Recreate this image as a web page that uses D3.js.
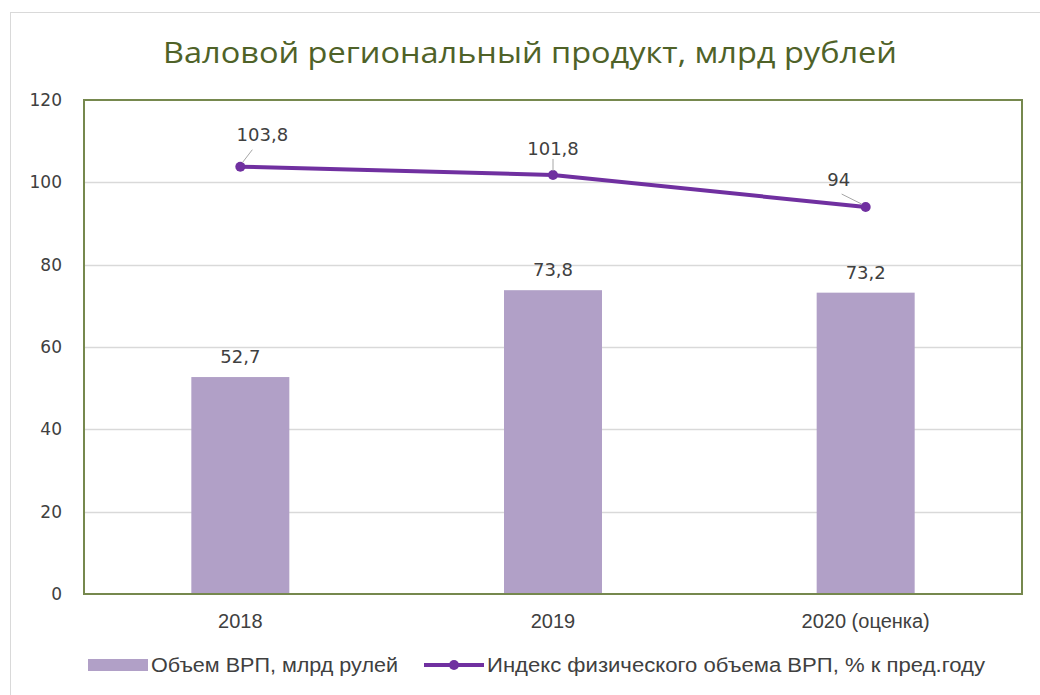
<!DOCTYPE html>
<html>
<head>
<meta charset="utf-8">
<script src="https://cdn.jsdelivr.net/npm/d3@7"></script>
<style>
  body { margin: 0; background: #fff; }
  #chart svg { display: block; }
</style>
</head>
<body>
<div id="chart"></div>
<script>
const categories = ['2018', '2019', '2020 (оценка)'];
const grpValues = [52.7, 73.8, 73.2];
const indexValues = [103.8, 101.8, 94];
const yTicks = [0, 20, 40, 60, 80, 100, 120];
const seriesNames = ['Объем ВРП, млрд рулей', 'Индекс физического объема ВРП, % к пред.году'];

const fmt = v => String(v).replace('.', ',');

function drawChart() {
  const W = 1040, H = 695;
  const plot = { left: 84, top: 100, right: 1022, bottom: 594 };
  const svg = d3.select('#chart').html('').append('svg')
                .attr('width', W)
                .attr('height', H);

  // outer chart frame
  svg.append('rect')
     .attr('x', 10.5).attr('y', 12.5)
     .attr('width', W + 20).attr('height', H)
     .attr('fill', '#fff')
     .attr('stroke', '#d9d9d9');

  const x = d3.scaleBand()
              .domain(categories)
              .range([plot.left, plot.right]);
  const y = d3.scaleLinear()
              .domain([0, 120])
              .range([plot.bottom, plot.top]);

  // gridlines
  svg.append('g')
     .selectAll('line')
     .data(yTicks.filter(t => t > 0 && t < 120))
     .join('line')
     .attr('x1', plot.left).attr('x2', plot.right)
     .attr('y1', d => Math.round(y(d)) + 0.5)
     .attr('y2', d => Math.round(y(d)) + 0.5)
     .attr('stroke', '#d9d9d9')
     .attr('stroke-width', 1.5);

  // y tick labels
  const yAxis = d3.axisLeft(y).tickValues(yTicks).tickSize(0).tickPadding(0);
  const ya = svg.append('g').attr('transform', `translate(${plot.left - 22},0)`).call(yAxis);
  ya.select('.domain').remove();
  ya.selectAll('text')
    .attr('font-family', 'DejaVu Sans, sans-serif')
    .attr('font-size', 17)
    .attr('fill', '#404040');

  // x tick labels
  const xAxis = d3.axisBottom(x).tickSize(0).tickPadding(0);
  const xa = svg.append('g').attr('transform', `translate(0,${plot.bottom + 20})`).call(xAxis);
  xa.select('.domain').remove();
  xa.selectAll('text')
    .attr('font-family', 'Liberation Sans, sans-serif')
    .attr('font-size', 20)
    .attr('fill', '#404040');

  // bars
  const barW = 98;
  svg.append('g')
     .selectAll('rect')
     .data(grpValues)
     .join('rect')
     .attr('x', (d, i) => x(categories[i]) + x.bandwidth() / 2 - barW / 2)
     .attr('y', d => y(d))
     .attr('width', barW)
     .attr('height', d => plot.bottom - y(d))
     .attr('fill', '#b1a0c7');

  svg.append('g')
     .selectAll('text')
     .data(grpValues)
     .join('text')
     .attr('x', (d, i) => x(categories[i]) + x.bandwidth() / 2)
     .attr('y', d => y(d) - 14)
     .attr('text-anchor', 'middle')
     .attr('font-family', 'DejaVu Sans, sans-serif')
     .attr('font-size', 18)
     .attr('fill', '#404040')
     .text(fmt);

  // plot frame
  svg.append('rect')
     .attr('x', plot.left).attr('y', plot.top)
     .attr('width', plot.right - plot.left)
     .attr('height', plot.bottom - plot.top)
     .attr('fill', 'none')
     .attr('stroke', '#76884e')
     .attr('stroke-width', 2);

  // line series
  const cx = (d, i) => x(categories[i]) + x.bandwidth() / 2;
  const line = d3.line().x(cx).y(d => y(d));
  svg.append('path')
     .attr('d', line(indexValues))
     .attr('fill', 'none')
     .attr('stroke', '#7030a0')
     .attr('stroke-width', 4)
     .attr('stroke-linejoin', 'round');

  svg.append('g')
     .selectAll('circle')
     .data(indexValues)
     .join('circle')
     .attr('cx', cx)
     .attr('cy', d => y(d))
     .attr('r', 5)
     .attr('fill', '#7030a0');

  // line data labels with leader lines (label offsets from the point)
  const offsets = [[22, -26], [0, -20], [-27, -21]];
  const leaders = [[[2, -4], [12, -17]], [[0, -4], [0, -16]], [[-4, -3], [-24, -13]]];
  const lab = svg.append('g');
  indexValues.forEach((d, i) => {
    const px = cx(d, i), py = y(d);
    lab.append('line')
       .attr('x1', px + leaders[i][0][0]).attr('y1', py + leaders[i][0][1])
       .attr('x2', px + leaders[i][1][0]).attr('y2', py + leaders[i][1][1])
       .attr('stroke', '#a6a6a6')
       .attr('stroke-width', 1);
    lab.append('text')
       .attr('x', px + offsets[i][0])
       .attr('y', py + offsets[i][1])
       .attr('text-anchor', 'middle')
       .attr('font-family', 'DejaVu Sans, sans-serif')
       .attr('font-size', 18)
       .attr('fill', '#404040')
       .text(fmt(d));
  });

  // title
  svg.append('text')
     .attr('x', 530)
     .attr('y', 63)
     .attr('text-anchor', 'middle')
     .attr('font-family', 'Open Sans, sans-serif')
     .attr('font-size', 30)
     .attr('fill', '#4f6228')
     .attr('textLength', 734)
     .attr('lengthAdjust', 'spacingAndGlyphs')
     .text('Валовой региональный продукт, млрд рублей');

  // legend
  const lg = svg.append('g').attr('transform', 'translate(0,665)');
  lg.append('rect')
    .attr('x', 88).attr('y', -6)
    .attr('width', 60).attr('height', 12)
    .attr('fill', '#b1a0c7');
  lg.append('text')
    .attr('x', 151).attr('y', 7)
    .attr('font-family', 'Liberation Sans, sans-serif')
    .attr('font-size', 20)
    .attr('fill', '#404040')
    .attr('textLength', 247)
    .attr('lengthAdjust', 'spacingAndGlyphs')
    .text(seriesNames[0]);
  lg.append('line')
    .attr('x1', 424).attr('x2', 484)
    .attr('y1', 0).attr('y2', 0)
    .attr('stroke', '#7030a0')
    .attr('stroke-width', 4);
  lg.append('circle')
    .attr('cx', 454).attr('cy', 0).attr('r', 5)
    .attr('fill', '#7030a0');
  lg.append('text')
    .attr('x', 487).attr('y', 7)
    .attr('font-family', 'Liberation Sans, sans-serif')
    .attr('font-size', 20)
    .attr('fill', '#404040')
    .attr('textLength', 498)
    .attr('lengthAdjust', 'spacingAndGlyphs')
    .text(seriesNames[1]);
}

drawChart();
</script>
</body>
</html>
